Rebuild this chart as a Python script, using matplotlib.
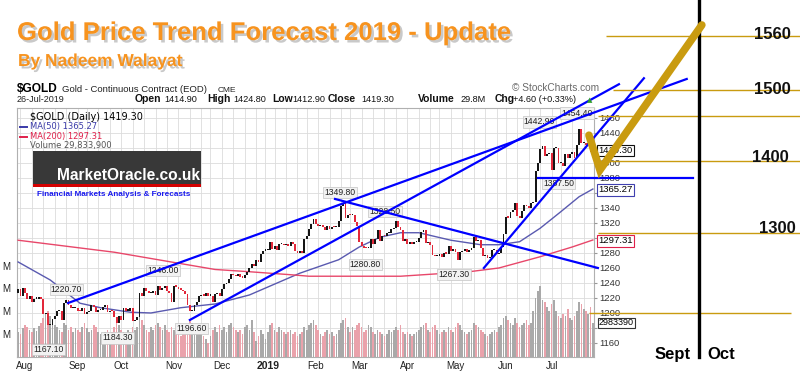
import matplotlib
matplotlib.use('Agg')
import matplotlib.pyplot as plt
import matplotlib.patheffects as pe
import matplotlib.transforms as mtrans
from matplotlib.patches import Rectangle
import numpy as np
import pandas as pd

plt.rcParams['font.family'] = ['Liberation Sans', 'DejaVu Sans']

# ---- data --------------------------------------------------------------
holidays = ['2018-09-03', '2018-11-22', '2018-12-25', '2019-01-01', '2019-01-21',
            '2019-02-18', '2019-04-19', '2019-05-27', '2019-07-04']

first_open = 1226.0
closes = [
    # Jul 2018
    1232, 1223, 1233,
    # Aug
    1227, 1219, 1223, 1215, 1219, 1219, 1220, 1219, 1198, 1200, 1184, 1184,
    1192, 1196, 1202, 1203, 1191, 1213, 1217, 1211, 1206, 1206, 1206,
    # Sep
    1203, 1202, 1207, 1199, 1201, 1202, 1210, 1208, 1201, 1204, 1204, 1208,
    1211, 1201, 1203, 1202, 1194, 1187, 1196,
    # Oct
    1191, 1207, 1203, 1203, 1206, 1189, 1191, 1194, 1227, 1222, 1233, 1229,
    1226, 1227, 1229, 1224, 1236, 1231, 1233, 1236, 1229, 1226, 1215,
    # Nov
    1236, 1235, 1232, 1231, 1229, 1225, 1210, 1202, 1202, 1211, 1215, 1222,
    1224, 1223, 1227, 1223, 1223, 1214, 1225, 1226, 1223,
    # Dec
    1232, 1238, 1240, 1245, 1252, 1250, 1249, 1252, 1248, 1247, 1250, 1255,
    1260, 1265, 1262, 1270, 1268, 1279, 1283, 1284,
    # Jan 2019
    1284, 1295, 1285, 1289, 1284, 1292, 1292, 1290, 1292, 1289, 1294, 1292,
    1282, 1280, 1283, 1280, 1298, 1303, 1312, 1319, 1325,
    # Feb
    1318, 1316, 1317, 1314, 1310, 1316, 1312, 1315, 1314, 1314, 1322, 1342,
    1346, 1326, 1331, 1330, 1330, 1321, 1316,
    # Mar
    1294, 1289, 1287, 1286, 1286, 1299, 1292, 1298, 1310, 1296, 1303, 1302,
    1306, 1307, 1312, 1313, 1322, 1315, 1310, 1296, 1298,
    # Apr
    1292, 1294, 1292, 1294, 1295, 1300, 1308, 1311, 1293, 1295, 1290, 1277,
    1276, 1276, 1278, 1274, 1280, 1279, 1289, 1283, 1285,
    # May
    1281, 1270, 1281, 1283, 1285, 1281, 1284, 1286, 1301, 1296, 1297, 1286,
    1276, 1277, 1273, 1274, 1284, 1284, 1278, 1280, 1288, 1305,
    # Jun
    1328, 1327, 1334, 1337, 1346, 1329, 1327, 1336, 1344, 1342, 1340, 1346,
    1348, 1389, 1400, 1418, 1423, 1409, 1412, 1413,
    # Jul
    1390, 1420, 1420, 1400, 1400, 1396, 1412, 1406, 1412, 1414, 1406, 1424,
    1445, 1426, 1427, 1424, 1426, 1415, 1419.3,
]

volume_m = [
    22, 20, 25,
    28, 26, 24, 22, 25, 23, 27, 30, 34, 38, 40, 36, 32, 28, 26, 24, 22, 30, 28, 24, 26, 22, 25,
    24, 22, 26, 30, 25, 22, 24, 28, 26, 22, 20, 18, 22, 24, 20, 22, 26, 30, 28,
    24, 22, 20, 24, 22, 26, 24, 26, 36, 32, 28, 24, 22, 26, 24, 28, 30, 26, 24, 28, 24, 22, 26,
    24, 22, 20, 18, 22, 24, 28, 32, 30, 26, 24, 22, 20, 18, 16, 12, 18, 24, 26, 22, 28,
    24, 26, 22, 28, 30, 26, 24, 22, 24, 20, 26, 28, 24, 32, 22, 14, 18, 24, 20, 16,
    22, 28, 30, 24, 22, 26, 24, 22, 20, 22, 24, 20, 22, 18, 20, 22, 26, 24, 28, 30, 32,
    28, 24, 20, 18, 22, 24, 20, 22, 18, 20, 24, 30, 32, 34, 26, 22, 26, 24, 28,
    30, 26, 22, 24, 28, 26, 22, 20, 24, 22, 20, 18, 20, 24, 22, 24, 26, 24, 28, 22, 20,
    22, 20, 18, 20, 22, 24, 26, 28, 30, 24, 22, 26, 28, 24, 20, 22, 24, 22, 26, 24, 22,
    26, 30, 28, 24, 22, 20, 22, 24, 30, 28, 26, 24, 22, 20, 18, 20, 22, 24, 22, 26, 28, 34,
    36, 32, 30, 28, 34, 30, 26, 28, 30, 32, 28, 30, 40, 52, 58, 62, 50, 48, 44, 40,
    46, 50, 40, 36, 34, 38, 36, 42, 34, 32, 36, 40, 48, 46, 42, 40, 38, 44, 29.8,
]

ma50_day = [0, 14, 27, 36, 49, 58, 71, 86, 101, 123, 140, 149, 158, 167, 175, 189,
            202, 210, 219, 228, 237, 245, 251]
ma50_val = [1268, 1244, 1213, 1207, 1201, 1200, 1207, 1212, 1224, 1253, 1271, 1288,
            1301, 1307, 1307, 1297, 1291, 1291, 1295, 1313, 1335, 1355, 1365.27]
ma200_day = [0, 42, 86, 101, 119, 127, 167, 197, 210, 228, 242, 251]
ma200_val = [1297, 1281, 1258, 1255, 1251, 1249, 1249, 1255, 1260, 1275, 1288, 1297.31]

# highs / lows that StockCharts labels
mark_day = [22, 14, 44, 64, 76, 142, 153, 164, 192, 229, 233, 246]
mark_val = [1220.70, 1167.10, 1184.30, 1246.00, 1196.60, 1349.80, 1280.80,
            1328.50, 1267.30, 1442.90, 1387.50, 1454.40]
mark_off = [(-2, 8), (-2, -12), (-1, -13), (-2, 8), (-1, -13), (-3, 8), (-3, -12),
            (-9, 5), (-4, -12), (-3, 9), (7, -11), (-4, 9)]

# hand drawn trend lines (day index, price)
trend_lines = [
    ([21.8, 292.0], [1213.3, 1512.0]),
    ([75.0, 262.4], [1190.7, 1505.0]),
    ([138.4, 253.2], [1352.0, 1260.0]),
    ([203.4, 273.3], [1260.0, 1513.0]),
    ([227.0, 294.7], [1380.0, 1380.0]),
]
check_x = [249.3, 254.1, 298.6]
check_y = [1437.0, 1390.7, 1584.0]

target_level = [1569, 1497, 1463, 1403, 1307, 1200]
target_from = [256.7, 259.8, 253.2, 253.2, 253.2, 249.3]
target_to = [341.4, 341.4, 341.4, 341.4, 341.4, 337.5]
target_text = ['1560', '1500', '', '1400', '1300', '']
target_text_y = [1571, 1498, 0, 1407, 1312, 0]
target_text_x = [329.5, 329.5, 0, 328.5, 331.5, 0]
month_split_x = 297.3

price_ticks = list(range(1160, 1461, 20))
hidden_ticks = [1180, 1300, 1360, 1420]   # covered by the value boxes

# ---- dates ---------------------------------------------------------------
days = pd.bdate_range('2018-07-27', '2019-07-26')
days = days[~days.isin(pd.to_datetime(holidays))]
closes = np.array(closes, dtype=float)
opens = np.concatenate([[first_open], closes[:-1]])
idx = np.arange(len(days))
up = closes >= opens

month_pos = [i for i in range(len(days)) if i > 0 and days[i].month != days[i - 1].month]
month_lab = ['2019' if days[i].month == 1 else days[i].strftime('%b') for i in month_pos]
week_pos = [i for i in range(1, len(days)) if days[i].weekday() < days[i - 1].weekday()]

W, H = 800, 392
def fx(px):
    return px / W
def fy(py):
    return 1 - py / H

fig = plt.figure(figsize=(8, 3.92), dpi=100)
fig.patch.set_facecolor('white')
rect = [fx(17), fy(357), 577 / W, 249 / H]

# volume panel (behind)
axv = fig.add_axes(rect, zorder=1)
axv.set_xlim(-0.5, len(days) - 0.5)
axv.set_ylim(0, 218)
axv.bar(idx, volume_m, width=0.75,
        color=np.where(up, '#a9a9a9', '#eaa2ab'), zorder=2)
axv.set_xticks([])
axv.set_yticks([20, 40, 60, 80])
axv.set_yticklabels(['M'] * 4)
axv.tick_params(axis='y', length=0, pad=5, labelsize=7, labelcolor='#222222')
for s in axv.spines.values():
    s.set_color('#b0b0b0')
    s.set_linewidth(0.8)

# price panel
ax = fig.add_axes(rect, zorder=2)
ax.patch.set_alpha(0)
ax.set_xlim(-0.5, len(days) - 0.5)
ax.set_ylim(1141.3, 1473.3)
for s in ax.spines.values():
    s.set_visible(False)

grid_tr = mtrans.blended_transform_factory(axv.transAxes, ax.transData)
axv.hlines(price_ticks, 0, 1, transform=grid_tr, colors='#dcdcdc', lw=0.6, zorder=0.5)
axv.vlines(week_pos, 0, 218, colors='#dcdcdc', lw=0.6, zorder=0.5)

ax.yaxis.tick_right()
ax.set_yticks(price_ticks)
ax.set_yticklabels(['' if t in hidden_ticks else str(t) for t in price_ticks])
ax.tick_params(axis='y', length=2, pad=2, labelsize=6.8, labelcolor='#333333', color='#999999')
ax.set_xticks(month_pos)
ax.set_xticklabels(month_lab)
ax.tick_params(axis='x', length=0, pad=3, labelsize=7, labelcolor='#222222')
for t in ax.get_xticklabels():
    if t.get_text() == '2019':
        t.set_fontweight('bold')
        t.set_fontsize(7.5)

body_lo = np.minimum(opens, closes)
body_h = np.maximum(np.abs(closes - opens), 1.8)
ax.bar(idx, body_h, bottom=body_lo, width=0.8,
       color=np.where(up, '#151515', '#e2283a'), zorder=3)
ax.plot(ma50_day, ma50_val, color='#5a5ab0', lw=1.0, zorder=2.8)
ax.plot(ma200_day, ma200_val, color='#e8476a', lw=1.0, zorder=2.8)

lab_box = dict(boxstyle='square,pad=0.15', fc='#f2f2f2', ec='#c4c4c4', lw=0.5)
for d, v, off in zip(mark_day, mark_val, mark_off):
    ax.annotate(f'{v:.2f}', xy=(d, v), xytext=off, textcoords='offset pixels',
                ha='center', va='center', fontsize=6.2, color='#222222',
                bbox=lab_box, zorder=4)

# legend inside chart
ax.text(0.022, 0.985, '$GOLD (Daily) 1419.30', transform=ax.transAxes, fontsize=7,
        family='DejaVu Sans', va='top', zorder=6)
ax.text(0.022, 0.945, 'MA(50) 1365.27', transform=ax.transAxes, fontsize=6,
        family='DejaVu Sans', color='#3a3aa8', va='top', zorder=6)
ax.text(0.022, 0.905, 'MA(200) 1297.31', transform=ax.transAxes, fontsize=6,
        family='DejaVu Sans', color='#e0204a', va='top', zorder=6)
ax.text(0.022, 0.867, 'Volume 29,833,900', transform=ax.transAxes, fontsize=6,
        family='DejaVu Sans', color='#555555', va='top', zorder=6)
ax.plot([0.005, 0.017], [0.925, 0.925], transform=ax.transAxes, color='#3a3aa8', lw=1.4)
ax.plot([0.005, 0.017], [0.885, 0.885], transform=ax.transAxes, color='#e0204a', lw=1.4)

# right-hand value boxes
rt = mtrans.blended_transform_factory(ax.transAxes, ax.transData)
for val, txt, ec in [(1417, '1419.30', '#111111'), (1364, '1365.27', '#4040b0'),
                     (1296, '1297.31', '#e0204a')]:
    ax.text(1.008, val, txt, transform=rt, fontsize=6.8, va='center', ha='left',
            bbox=dict(boxstyle='square,pad=0.12', fc='white', ec=ec, lw=0.8),
            zorder=5, clip_on=False)
vt = mtrans.blended_transform_factory(axv.transAxes, axv.transData)
axv.text(1.008, 29.8, '2983390', transform=vt, fontsize=6.5, va='center', ha='left',
         bbox=dict(boxstyle='square,pad=0.1', fc='white', ec='#333333', lw=0.8),
         zorder=5, clip_on=False)

# forecast overlay
ax.hlines(target_level, target_from, target_to, colors='#c99b10', lw=1.0,
          clip_on=False, zorder=7)
for tx, ty, tt in zip(target_text_x, target_text_y, target_text):
    if tt:
        ax.text(tx, ty, tt, ha='center', va='center', fontsize=12, fontweight='bold',
                color='#111111', clip_on=False, zorder=8)
for xs, ys in trend_lines:
    ax.plot(xs, ys, color='#0000ff', lw=1.6, clip_on=False, zorder=6)
ax.plot([month_split_x, month_split_x], [1141.3, 1620], color='black', lw=2.4,
        clip_on=False, zorder=7)
ax.text(285.9, 1145, 'Sept', ha='center', va='center', fontsize=12, fontweight='bold',
        clip_on=False, zorder=8)
ax.text(306.9, 1145, 'Oct', ha='center', va='center', fontsize=12, fontweight='bold',
        clip_on=False, zorder=8)
ax.plot(check_x, check_y, color='#c99b10', lw=5.5, solid_capstyle='round',
        solid_joinstyle='miter', clip_on=False, zorder=9)

# header texts
shadow = [pe.withSimplePatchShadow(offset=(1.8, -1.8), shadow_rgbFace='#888888', alpha=0.45)]
fig.text(fx(17), fy(40), 'Gold Price Trend Forecast 2019 - Update', fontsize=18.5,
         fontweight='bold', color='#f7931e', va='baseline', path_effects=shadow)
fig.text(fx(18), fy(66), 'By Nadeem Walayat', fontsize=12.5, fontweight='bold',
         color='#f7931e', va='baseline', path_effects=shadow)
fig.text(fx(17), fy(92), '$GOLD', fontsize=8.6, fontweight='bold', va='baseline')
fig.text(fx(62), fy(92), 'Gold - Continuous Contract (EOD)', fontsize=6.8, va='baseline',
         color='#222222')
fig.text(fx(218), fy(92), 'CME', fontsize=6, va='baseline', color='#222222')
fig.text(fx(512), fy(91), '\u00a9 StockCharts.com', fontsize=7.3, va='baseline',
         color='#6a6a6a')
fig.text(fx(17), fy(102), '26-Jul-2019', fontsize=6.5, va='baseline', color='#222222')
for px, txt, bold in [(135, 'Open', True), (164, '1414.90', False), (207, 'High', True),
                      (233, '1424.80', False), (272, 'Low', True), (292, '1412.90', False),
                      (328, 'Close', True), (361, '1419.30', False), (418, 'Volume', True),
                      (460, '29.8M', False), (495, 'Chg', True),
                      (513, '+4.60 (+0.33%)', False)]:
    fig.text(fx(px), fy(102), txt, fontsize=7.5 if bold else 6.6,
             fontweight='bold' if bold else 'normal', va='baseline', color='#111111')
fig.text(fx(587), fy(102), '\u25b2', fontsize=5, color='#2a9a2a', va='baseline',
         family='DejaVu Sans')

# MarketOracle logo
fig.add_artist(Rectangle((fx(33), fy(184)), 168 / W, 33 / H, transform=fig.transFigure,
                         fc='#383838', ec='none', zorder=5))
fig.add_artist(Rectangle((fx(33), fy(187)), 168 / W, 3 / H, transform=fig.transFigure,
                         fc='#d40000', ec='none', zorder=5))
fig.text(fx(57), fy(180), 'MarketOracle.co.uk', fontsize=11.2, fontweight='bold',
         color='white', va='baseline', zorder=6)
fig.text(fx(37), fy(196), 'Financial Markets Analysis & Forecasts', fontsize=5.9,
         fontweight='bold', color='#1a1aee', va='baseline', zorder=6)

fig.savefig('out.png', dpi=100, facecolor='white')
